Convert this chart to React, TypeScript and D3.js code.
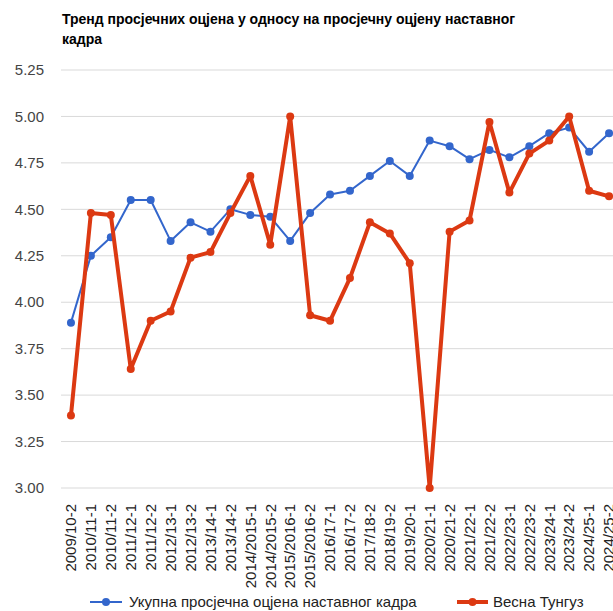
import React from "react";
import * as d3 from "d3";

const categories = [
  "2009/10-2", "2010/11-1", "2010/11-2", "2011/12-1", "2011/12-2", "2012/13-1", "2012/13-2",
  "2013/14-1", "2013/14-2", "2014/2015-1", "2014/2015-2", "2015/2016-1", "2015/2016-2",
  "2016/17-1", "2016/17-2", "2017/18-2", "2018/19-2", "2019/20-1", "2020/21-1", "2020/21-2",
  "2021/22-1", "2021/22-2", "2022/23-1", "2022/23-2", "2023/24-1", "2023/24-2", "2024/25-1", "2024/25-2",
];

const staffAvg = [
  3.89, 4.25, 4.35, 4.55, 4.55, 4.33, 4.43, 4.38, 4.5, 4.47, 4.46, 4.33, 4.48,
  4.58, 4.6, 4.68, 4.76, 4.68, 4.87, 4.84, 4.77, 4.82, 4.78, 4.84, 4.91, 4.94, 4.81, 4.91,
];

const vesna = [
  3.39, 4.48, 4.47, 3.64, 3.9, 3.95, 4.24, 4.27, 4.48, 4.68, 4.31, 5.0, 3.93,
  3.9, 4.13, 4.43, 4.37, 4.21, 3.0, 4.38, 4.44, 4.97, 4.59, 4.8, 4.87, 5.0, 4.6, 4.57,
];

const yTicks = [3.0, 3.25, 3.5, 3.75, 4.0, 4.25, 4.5, 4.75, 5.0, 5.25];

const seriesNames = ["Укупна просјечна оцјена наставног кадра", "Весна Тунгуз"];
const titleLines = ["Тренд просјечних оцјена у односу на просјечну оцјену наставног", "кадра"];

const W = 613;
const H = 611;
const BLUE = "#3366cc";
const RED = "#dc3912";
const FONT = "Arial, 'Liberation Sans', sans-serif";

export default function App() {
  const x = d3.scaleBand<string>().domain(categories).range([61, 619]).padding(0);
  const cx = (c: string) => (x(c) ?? 0) + x.bandwidth() / 2;
  const y = d3.scaleLinear().domain([3, 5.25]).range([488, 70]);

  const line = d3
    .line<number>()
    .x((_, i) => cx(categories[i]))
    .y((d) => y(d));

  return (
    <svg
      width={W}
      height={H}
      style={{ position: "absolute", left: 0, top: 0, background: "#fff" }}
      fontFamily={FONT}
    >
      <rect x={0} y={0} width={W} height={H} fill="#fff" />
      {titleLines.map((t, i) => (
        <text key={i} x={62} y={24 + i * 20} fontSize={14} fontWeight="bold" fill="#000">
          {t}
        </text>
      ))}
      {yTicks.map((t) => (
        <g key={t}>
          <line x1={61} x2={W} y1={y(t)} y2={y(t)} stroke="#d9d9d9" strokeWidth={1} />
          <text x={44} y={y(t)} dy="0.35em" textAnchor="end" fontSize={15} fill="#444">
            {t.toFixed(2)}
          </text>
        </g>
      ))}
      {categories.map((c) => (
        <text
          key={c}
          transform={`translate(${cx(c)},504) rotate(-90)`}
          textAnchor="end"
          dy="0.35em"
          fontSize={15}
          fill="#222"
        >
          {c}
        </text>
      ))}
      <path d={line(staffAvg) ?? ""} fill="none" stroke={BLUE} strokeWidth={2} strokeLinejoin="round" />
      {staffAvg.map((v, i) => (
        <circle key={i} cx={cx(categories[i])} cy={y(v)} r={4} fill={BLUE} />
      ))}
      <path d={line(vesna) ?? ""} fill="none" stroke={RED} strokeWidth={4} strokeLinejoin="round" />
      {vesna.map((v, i) => (
        <circle key={i} cx={cx(categories[i])} cy={y(v)} r={4} fill={RED} />
      ))}
      {/* legend */}
      <g>
        <line x1={90} x2={122} y1={602} y2={602} stroke={BLUE} strokeWidth={2} />
        <circle cx={106} cy={602} r={4} fill={BLUE} />
        <text x={129} y={602} dy="0.35em" fontSize={15} fill="#222">
          {seriesNames[0]}
        </text>
        <line x1={457} x2={488} y1={602} y2={602} stroke={RED} strokeWidth={4} />
        <circle cx={472.5} cy={602} r={4} fill={RED} />
        <text x={493} y={602} dy="0.35em" fontSize={15} fill="#222">
          {seriesNames[1]}
        </text>
      </g>
    </svg>
  );
}
